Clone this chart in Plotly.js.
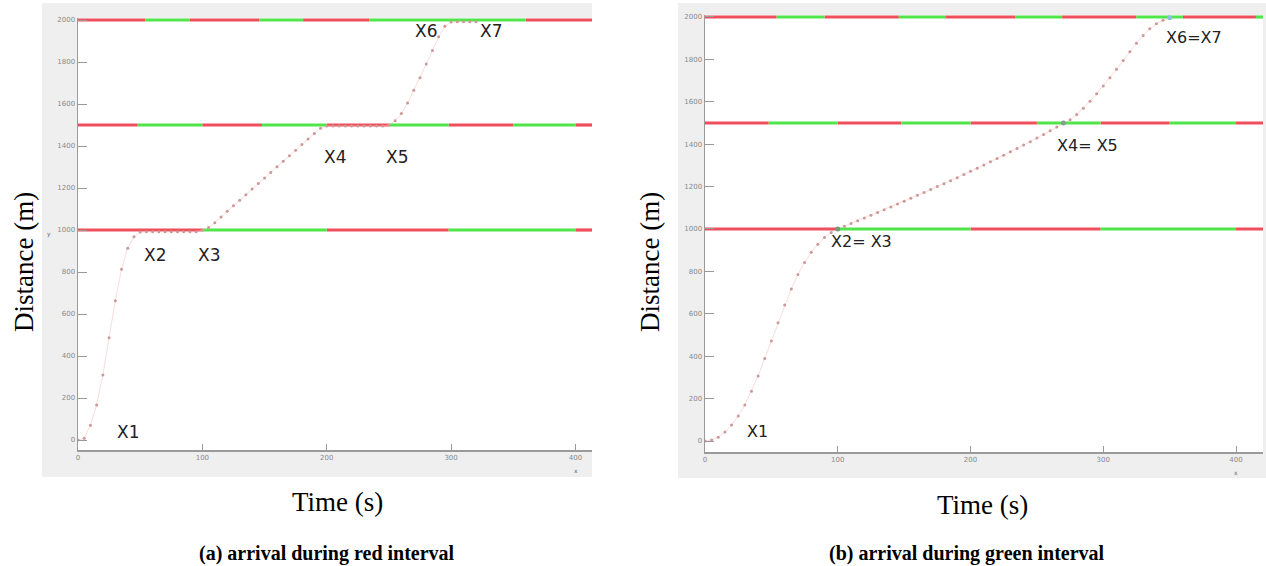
<!DOCTYPE html>
<html><head><meta charset="utf-8">
<script src="https://cdn.plot.ly/plotly-3.0.1.min.js"></script>
<style>html,body{margin:0;padding:0;background:#fff}#chart{width:1266px;height:566px}</style>
</head><body><div id="chart"></div>
<script>
// ---------- data ----------
// (a) arrival during red interval : time (s) and distance (m)
const timeA = [0,5,10,15,20,25,30,35,40,45,50,55,60,65,70,75,80,85,90,95,100,105,110,115,120,125,130,135,140,145,150,155,160,165,170,175,180,185,190,195,200,205,210,215,220,225,230,235,240,245,250,255,260,265,270,275,280,285,290,295,300,305,310,315,320];
const distA = [0,8,70,167,310,487,663,813,913,968,990,992,992,992,992,992,992,992,992,992,1000,1012,1035,1062,1089,1115,1142,1168,1195,1221,1248,1274,1301,1327,1354,1380,1407,1433,1460,1484,1495,1495,1495,1495,1495,1495,1495,1495,1495,1495,1500,1520,1555,1605,1665,1725,1790,1855,1920,1970,1990,1992,1992,1992,1992];
// (b) arrival during green interval
const timeB = [0,5,10,15,20,25,30,35,40,45,50,55,60,65,70,75,80,85,90,95,100,105,110,115,120,125,130,135,140,145,150,155,160,165,170,175,180,185,190,195,200,205,210,215,220,225,230,235,240,245,250,255,260,265,270,275,280,285,290,295,300,305,310,315,320,325,330,335,340,345,350];
const distB = [0,5,18,42,75,118,170,235,307,389,472,558,641,717,785,842,890,928,960,983,1000,1013,1026,1039,1052,1065,1078,1091,1104,1118,1131,1145,1159,1172,1186,1200,1214,1228,1242,1257,1272,1287,1302,1317,1332,1348,1364,1380,1396,1412,1429,1446,1463,1481,1498,1515,1540,1570,1603,1638,1675,1714,1754,1795,1836,1876,1913,1944,1968,1985,1996];
// junction markers in (b)
const junctionT = [100, 270, 350];
const junctionD = [1000, 1500, 1996];
const junctionColors = ['#6f9a80', '#7fa090', '#8fc0e0'];

// signal locations (m) and phase boundaries (s); phases alternate red, green, red ...
const signalLevels = [1000, 1500, 2000];
const sigBotA = [0,100,200,298,400,425];
const sigMidA = [0,48,100,148,200,250,298,350,400,425];
const sigTopA = [0,54,90,146,181,234,360,425];
const sigBotB = [0,100,200,298,400,425];
const sigMidB = [0,48,100,148,200,250,298,350,400,425];
const sigTopB = [0,54,90,146,181,234,269,325,360,415,425];

// point labels
const labelsA = ['X1','X2','X3','X4','X5','X6','X7'];
const labelTA = [39.8, 61.9, 105.3, 206.7, 256.5, 279.9, 332];
const labelDA = [38, 881, 881, 1348, 1348, 1948, 1948];
const labelsB = ['X1','X2= X3','X4= X5','X6=X7'];
const labelTB = [39.2, 117.9, 288.1, 368.4];
const labelDB = [47, 939, 1396, 1901];

const yTicks = [0,200,400,600,800,1000,1200,1400,1600,1800,2000];
const xTicks = [0,100,200,300,400];

// ---------- build ----------
const RED = '#ef4f5c', GREEN = '#50e64a';
const traces = [];
function addSignal(bounds, level, xa, ya) {
  const rx = [], ry = [], gx = [], gy = [];
  for (let i = 0; i < bounds.length - 1; i++) {
    const tx = (i % 2 === 0) ? rx : gx, ty = (i % 2 === 0) ? ry : gy;
    tx.push(bounds[i], bounds[i+1], null); ty.push(level, level, null);
  }
  traces.push({x: rx, y: ry, xaxis: xa, yaxis: ya, mode: 'lines', line: {color: RED, width: 3.2}, hoverinfo: 'skip', showlegend: false});
  traces.push({x: gx, y: gy, xaxis: xa, yaxis: ya, mode: 'lines', line: {color: GREEN, width: 3.2}, hoverinfo: 'skip', showlegend: false});
}
addSignal(sigBotA, signalLevels[0], 'x', 'y');
addSignal(sigMidA, signalLevels[1], 'x', 'y');
addSignal(sigTopA, signalLevels[2], 'x', 'y');
addSignal(sigBotB, signalLevels[0], 'x2', 'y2');
addSignal(sigMidB, signalLevels[1], 'x2', 'y2');
addSignal(sigTopB, signalLevels[2], 'x2', 'y2');

const curveStyle = {mode: 'lines+markers', line: {color: 'rgba(245,185,185,0.5)', width: 1},
  marker: {size: 3, color: '#cc9898'}, showlegend: false};
traces.push(Object.assign({x: timeA, y: distA, xaxis: 'x', yaxis: 'y'}, curveStyle));
traces.push(Object.assign({x: timeB, y: distB, xaxis: 'x2', yaxis: 'y2'}, curveStyle));
traces.push({x: junctionT, y: junctionD, xaxis: 'x2', yaxis: 'y2', mode: 'markers',
  marker: {size: 5, color: junctionColors}, showlegend: false});

const W = 1266, H = 566;
const px = v => v / W, py = v => (H - v) / H;

const labelFont = {family: 'DejaVu Sans, Verdana, sans-serif', size: 17, color: '#222'};
const ann = [];
labelsA.forEach((t, i) => ann.push({x: labelTA[i], y: labelDA[i], xref: 'x', yref: 'y', text: t, showarrow: false, font: labelFont}));
labelsB.forEach((t, i) => ann.push({x: labelTB[i], y: labelDB[i], xref: 'x2', yref: 'y2', text: t, showarrow: false, font: Object.assign({}, labelFont, {size: 16})}));

const serif = 'Liberation Serif, Times New Roman, serif';
function paperText(text, x, y, font, extra) {
  ann.push(Object.assign({text, x: px(x), y: py(y), xref: 'paper', yref: 'paper', showarrow: false, xanchor: 'center', yanchor: 'middle', font}, extra || {}));
}
paperText('Distance (m)', 24, 262, {family: serif, size: 27, color: '#000'}, {textangle: -90});
paperText('Distance (m)', 650, 262, {family: serif, size: 27, color: '#000'}, {textangle: -90});
paperText('Time (s)', 337, 502, {family: serif, size: 27, color: '#000'});
paperText('Time (s)', 982, 505, {family: serif, size: 27, color: '#000'});
paperText('<b>(a) arrival during red interval</b>', 327, 553, {family: serif, size: 20, color: '#000'});
paperText('<b>(b) arrival during green interval</b>', 967, 553, {family: serif, size: 20, color: '#000'});
paperText('x', 576, 470, {family: 'DejaVu Sans', size: 6, color: '#666'});
paperText('x', 1236, 472, {family: 'DejaVu Sans', size: 6, color: '#666'});
paperText('y', 49, 234, {family: 'DejaVu Sans', size: 6, color: '#666'});

const shapes = [
  {type: 'rect', xref: 'paper', yref: 'paper', x0: px(42), x1: px(592), y0: py(477), y1: py(3), fillcolor: '#efefef', line: {width: 0}, layer: 'below'},
  {type: 'rect', xref: 'paper', yref: 'paper', x0: px(678), x1: px(1266), y0: py(478), y1: py(3), fillcolor: '#efefef', line: {width: 0}, layer: 'below'},
  {type: 'rect', xref: 'paper', yref: 'paper', x0: px(78), x1: px(592), y0: py(450), y1: py(18), fillcolor: '#ffffff', line: {width: 0}, layer: 'below'},
  {type: 'rect', xref: 'paper', yref: 'paper', x0: px(705), x1: px(1263), y0: py(452), y1: py(15), fillcolor: '#ffffff', line: {width: 0}, layer: 'below'}
];

const tickFont = {family: 'DejaVu Sans, sans-serif', size: 7, color: '#8a8a8a'};
function xAxis(domain, range, anchor) {
  return {domain, range, anchor, showgrid: false, zeroline: false, showline: true, linecolor: '#9a9a9a', linewidth: 1.5,
    ticks: 'inside', ticklen: 6, tickcolor: '#9a9a9a', tickvals: xTicks, ticktext: xTicks.map(String), tickfont: tickFont, fixedrange: true};
}
function yAxis(domain, range, anchor) {
  return {domain, range, anchor, showgrid: false, zeroline: false, showline: true, linecolor: '#9a9a9a', linewidth: 1.5,
    ticks: 'inside', ticklen: 9, tickcolor: '#9a9a9a', tickvals: yTicks, ticktext: yTicks.map(String), tickfont: tickFont, fixedrange: true};
}

const layout = {
  width: W, height: H, margin: {l: 0, r: 0, t: 0, b: 0},
  paper_bgcolor: '#ffffff', plot_bgcolor: 'rgba(0,0,0,0)', showlegend: false,
  xaxis: xAxis([px(78), px(592)], [0, 413.3], 'y'),
  yaxis: yAxis([py(450), py(18)], [-47.6, 2009.5], 'x'),
  xaxis2: xAxis([px(705), px(1263)], [0, 420.3], 'y2'),
  yaxis2: yAxis([py(452), py(15)], [-51.9, 2009.4], 'x2'),
  shapes, annotations: ann
};
Plotly.newPlot('chart', traces, layout, {displayModeBar: false, staticPlot: true});
</script></body></html>
